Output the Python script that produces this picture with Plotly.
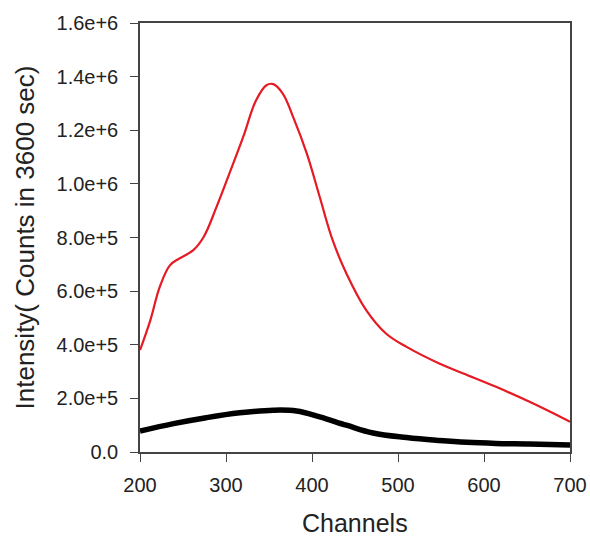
import plotly.graph_objects as go

# Red spectrum (channel, intensity)
red_x = [200, 212, 223, 235, 246, 262, 274, 289, 304, 320, 335, 347, 355, 366, 378, 394, 409, 424, 440,
         463, 486, 510, 548, 576, 614, 653, 700]
red_y = [380000, 491000, 616000, 697000, 722000, 753000, 802000, 914000, 1039000, 1175000, 1312000, 1368000,
         1372000, 1337000, 1250000, 1113000, 951000, 790000, 666000, 529000, 442000, 392000, 330000, 293000,
         243000, 187000, 113000]

# Black spectrum
black_x = [200, 239, 277, 316, 355, 382, 409, 440, 471, 510, 548, 580, 614, 653, 700]
black_y = [78000, 106000, 128000, 146000, 156000, 153000, 131000, 100000, 71000, 54000, 43000, 36000,
           32000, 30000, 26000]

x_ticks = [200, 300, 400, 500, 600, 700]
y_ticks = [0, 200000, 400000, 600000, 800000, 1000000, 1200000, 1400000, 1600000]
y_labels = ["0.0", "2.0e+5", "4.0e+5", "6.0e+5", "8.0e+5", "1.0e+6", "1.2e+6", "1.4e+6", "1.6e+6"]

fig = go.Figure()
fig.add_trace(go.Scatter(x=black_x, y=black_y, mode="lines",
                         line=dict(color="black", width=5.5, shape="spline", smoothing=1.1),
                         showlegend=False))
fig.add_trace(go.Scatter(x=red_x, y=red_y, mode="lines",
                         line=dict(color="#e51a22", width=2.2, shape="spline", smoothing=1.1),
                         showlegend=False))

font_family = "Liberation Sans, Arial, sans-serif"

fig.update_layout(
    width=590, height=540,
    margin=dict(l=140, r=20, t=23, b=88),
    paper_bgcolor="white", plot_bgcolor="white",
    font=dict(family=font_family, color="#222"),
    xaxis=dict(range=[200, 700], tickvals=x_ticks, ticks="outside", ticklen=8, automargin=False,
               tickcolor="#444", showline=True, linecolor="#444", linewidth=1.5, mirror=True,
               showgrid=False, zeroline=False, tickfont=dict(size=20, color="#222"),
               ticklabelstandoff=6),
    yaxis=dict(range=[0, 1600000], tickvals=y_ticks, ticktext=y_labels, ticks="outside", ticklen=8,
               automargin=False,
               tickcolor="#444", showline=True, linecolor="#444", linewidth=1.5, mirror=True,
               showgrid=False, zeroline=False, tickfont=dict(size=20, color="#222"),
               ticklabelstandoff=8,
               title=dict(text="Intensity( Counts in 3600 sec)", font=dict(size=26, color="#222"), standoff=14)),
    annotations=[dict(text="Channels", xref="paper", yref="paper", x=0.5, y=-0.166,
                      xanchor="center", yanchor="middle", showarrow=False,
                      font=dict(size=25, color="#222"))],
)

fig.write_html("out.html")
